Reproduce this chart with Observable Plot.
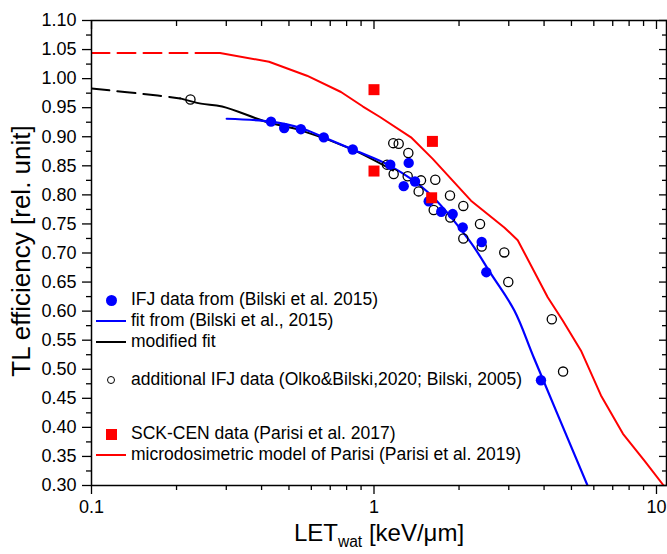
<!DOCTYPE html>
<html>
<head>
<meta charset="utf-8">
<script src="https://cdn.jsdelivr.net/npm/d3@7"></script>
<script src="https://cdn.jsdelivr.net/npm/@observablehq/plot@0.6"></script>
<style>
  html, body { margin: 0; padding: 0; background: #fff; }
  #wrap { position: relative; width: 667px; height: 554px; font-family: "Liberation Sans", Arial, sans-serif; color: #000; }
  #wrap svg { position: absolute; left: 0; top: 0; }
  .lg { position: absolute; left: 131px; height: 20px; line-height: 20px; font-size: 17.5px; white-space: nowrap; }
  .sym { position: absolute; }
  #xtitle { position: absolute; left: 379px; top: 521px; transform: translateX(-50%); font-size: 24px; line-height: 24px; white-space: nowrap; }
  #xtitle sub { font-size: 0.65em; vertical-align: -0.4em; line-height: 0; }
  #ytitle { position: absolute; left: 21px; top: 251px; transform: translate(-50%, -50%) rotate(-90deg); font-size: 26px; line-height: 26px; white-space: nowrap; }
</style>
</head>
<body>
<div id="wrap"></div>
<script>
// ---- Data ----
// IFJ data from (Bilski et al. 2015) – filled blue circles
const ifjLET = [0.432, 0.481, 0.551, 0.664, 0.841, 1.142, 1.327, 1.274, 1.397, 1.562, 1.730, 1.899, 2.061, 2.406, 2.498, 3.90];
const ifjEff = [0.926, 0.915, 0.913, 0.899, 0.878, 0.852, 0.855, 0.815, 0.823, 0.789, 0.771, 0.767, 0.744, 0.719, 0.667, 0.481];

// additional IFJ data (Olko&Bilski 2020; Bilski 2005) – open circles
const addLET = [0.224, 1.170, 1.223, 1.323, 1.112, 1.174, 1.316, 1.467, 1.648, 1.439, 1.858, 1.627, 2.071, 1.863, 2.373, 2.071, 2.406, 2.892, 2.988, 4.26, 4.67];
const addEff = [0.964, 0.889, 0.888, 0.872, 0.852, 0.836, 0.832, 0.825, 0.826, 0.806, 0.799, 0.774, 0.781, 0.761, 0.750, 0.725, 0.711, 0.701, 0.650, 0.586, 0.496];

// SCK-CEN data (Parisi et al. 2017) – red squares
const sckLET = [1.00, 1.00, 1.61, 1.60];
const sckEff = [0.981, 0.841, 0.892, 0.795];

// fit from (Bilski et al., 2015) – blue line
const fitLET = [0.301, 0.432, 0.551, 0.664, 0.841, 1.149, 1.549, 2.17, 2.596, 3.139, 3.693, 5.70];
const fitEff = [0.931, 0.926, 0.915, 0.899, 0.878, 0.849, 0.805, 0.722, 0.664, 0.601, 0.518, 0.300];

// modified fit – black line (dashed extrapolation + solid)
const modDashLET = [0.100, 0.1715, 0.206];
const modDashEff = [0.983, 0.971, 0.966];
const modLET = [0.206, 0.244, 0.290, 0.420, 0.551, 0.829, 1.167];
const modEff = [0.966, 0.957, 0.952, 0.925, 0.911, 0.879, 0.842];

// microdosimetric model of Parisi (Parisi et al. 2019) – red line
const modelDashLET = [0.100, 0.244];
const modelDashEff = [1.044, 1.044];
const modelLET = [0.244, 0.285, 0.425, 0.579, 0.764, 0.914, 1.050, 1.352, 1.614, 2.205, 2.892, 3.227, 4.12, 4.656, 5.405, 6.36, 7.61, 9.06, 10.6];
const modelEff = [1.044, 1.044, 1.029, 1.005, 0.977, 0.952, 0.934, 0.899, 0.862, 0.790, 0.744, 0.722, 0.624, 0.584, 0.532, 0.455, 0.389, 0.343, 0.300];

// ticks
const xMajor = [0.1, 1, 10];
const xMinor = [0.2, 0.3, 0.4, 0.5, 0.6, 0.7, 0.8, 0.9, 2, 3, 4, 5, 6, 7, 8, 9];
const yMajor = [0.30, 0.35, 0.40, 0.45, 0.50, 0.55, 0.60, 0.65, 0.70, 0.75, 0.80, 0.85, 0.90, 0.95, 1.00, 1.05, 1.10];
const yMinor = yMajor.slice(0, -1).map(v => v + 0.025);

// legend labels
const legendLabels = [
  "IFJ data from (Bilski et al. 2015)",
  "fit from (Bilski et al., 2015)",
  "modified fit",
  "additional IFJ data (Olko&Bilski,2020; Bilski, 2005)",
  "SCK-CEN data (Parisi et al. 2017)",
  "microdosimetric model of Parisi (Parisi et al. 2019)"
];

const pts = (xs, ys) => xs.map((x, i) => ({x, y: ys[i]}));

const blank = () => "";
const tw = 1.3;

const chart = Plot.plot({
  width: 667,
  height: 554,
  marginLeft: 91,
  marginRight: 1,
  marginTop: 20,
  marginBottom: 69,
  x: {type: "log", domain: [0.1, 10.85]},
  y: {domain: [0.30, 1.10]},
  style: {fontFamily: "'Liberation Sans', Arial, sans-serif", fontSize: "18px", color: "black", background: "transparent", overflow: "visible"},
  marks: [
    // axes: left/bottom outward, right/top inward
    Plot.axisY({ticks: yMajor, tickSize: 9, tickPadding: 6, tickFormat: d3.format(".2f"), label: null, strokeWidth: tw}),
    Plot.axisY({ticks: yMinor, tickSize: 5, tickFormat: blank, label: null, strokeWidth: tw}),
    Plot.axisY({anchor: "right", ticks: yMajor, tickSize: 8, dx: -8, tickFormat: blank, label: null, strokeWidth: tw}),
    Plot.axisY({anchor: "right", ticks: yMinor, tickSize: 5, dx: -5, tickFormat: blank, label: null, strokeWidth: tw}),
    Plot.axisX({ticks: xMajor, tickSize: 9, tickPadding: 6, tickFormat: d => String(d), label: null, strokeWidth: tw}),
    Plot.axisX({ticks: xMinor, tickSize: 5, tickFormat: blank, label: null, strokeWidth: tw}),
    Plot.axisX({anchor: "top", ticks: xMajor, tickSize: 8, dy: 8, tickFormat: blank, label: null, strokeWidth: tw}),
    Plot.axisX({anchor: "top", ticks: xMinor, tickSize: 5, dy: 5, tickFormat: blank, label: null, strokeWidth: tw}),
    // lines
    Plot.line(pts(modelDashLET, modelDashEff), {x: "x", y: "y", stroke: "#ff0000", strokeWidth: 2, strokeDasharray: "18,8", clip: true}),
    Plot.line(pts(modelLET, modelEff), {x: "x", y: "y", stroke: "#ff0000", strokeWidth: 2, clip: true}),
    Plot.line(pts(modDashLET, modDashEff), {x: "x", y: "y", stroke: "#000", strokeWidth: 2, strokeDasharray: "18,8", curve: "catmull-rom", clip: true}),
    Plot.line(pts(modLET, modEff), {x: "x", y: "y", stroke: "#000", strokeWidth: 2, curve: "catmull-rom", clip: true}),
    Plot.line(pts(fitLET, fitEff), {x: "x", y: "y", stroke: "#0000ff", strokeWidth: 2.2, curve: "catmull-rom", clip: true}),
    // points
    Plot.dot(pts(addLET, addEff), {x: "x", y: "y", r: 4.6, stroke: "#000", strokeWidth: 1.3, fill: "none"}),
    Plot.dot(pts(ifjLET, ifjEff), {x: "x", y: "y", r: 5.2, fill: "#0000ff", stroke: "none"}),
    Plot.dot(pts(sckLET, sckEff), {x: "x", y: "y", r: 6.2, symbol: "square", fill: "#ff0000", stroke: "none"}),
    Plot.frame({stroke: "#000", strokeWidth: 1.5})
  ]
});

const wrap = document.getElementById("wrap");
wrap.appendChild(chart);

// legend (HTML overlay)
const rows = [
  {cy: 300, kind: "dot"},
  {cy: 321, kind: "line", color: "#0000ff"},
  {cy: 342, kind: "line", color: "#000"},
  {cy: 380, kind: "ring"},
  {cy: 434, kind: "square"},
  {cy: 455, kind: "line", color: "#ff0000"}
];
rows.forEach((r, i) => {
  const t = document.createElement("div");
  t.className = "lg";
  t.style.top = (r.cy - 11) + "px";
  t.textContent = legendLabels[i];
  wrap.appendChild(t);
  const s = document.createElement("div");
  s.className = "sym";
  if (r.kind === "dot") {
    Object.assign(s.style, {left: "105.5px", top: (r.cy - 5.5) + "px", width: "11px", height: "11px", borderRadius: "50%", background: "#0000ff"});
  } else if (r.kind === "ring") {
    Object.assign(s.style, {left: "107px", top: (r.cy - 4) + "px", width: "6px", height: "6px", borderRadius: "50%", border: "1.3px solid #000"});
  } else if (r.kind === "square") {
    Object.assign(s.style, {left: "105.5px", top: (r.cy - 5.5) + "px", width: "11px", height: "11px", background: "#ff0000"});
  } else {
    Object.assign(s.style, {left: "96px", top: (r.cy - 1) + "px", width: "30px", height: "2px", background: r.color});
  }
  wrap.appendChild(s);
});

// axis titles
const xt = document.createElement("div");
xt.id = "xtitle";
xt.innerHTML = "LET<sub>wat</sub> [keV/\u03bcm]";
wrap.appendChild(xt);
const yt = document.createElement("div");
yt.id = "ytitle";
yt.textContent = "TL efficiency [rel. unit]";
wrap.appendChild(yt);
</script>
</body>
</html>
